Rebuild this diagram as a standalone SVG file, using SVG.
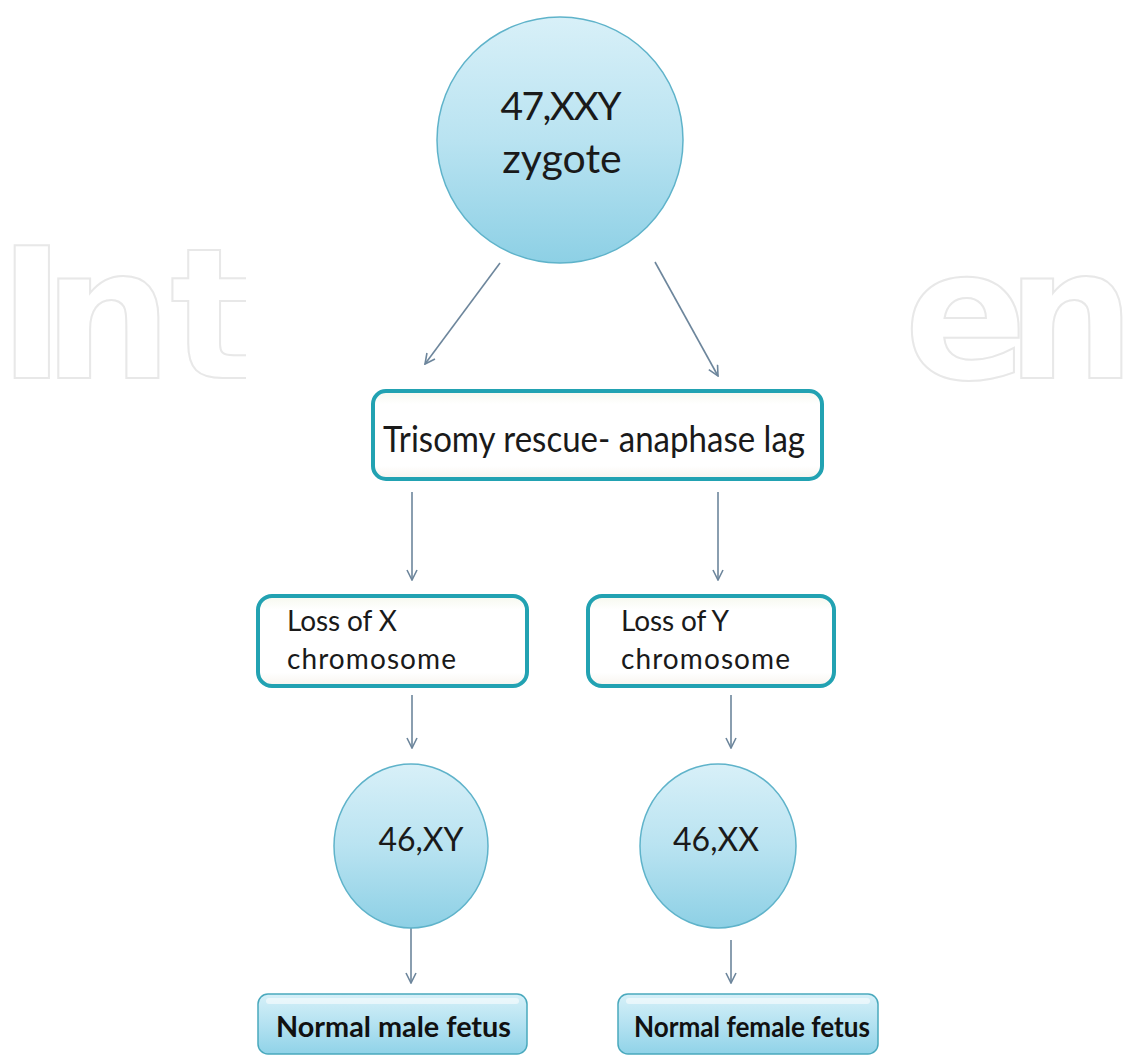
<svg xmlns="http://www.w3.org/2000/svg" width="1140" height="1057" viewBox="0 0 1140 1057">
  <defs>
    <style>
      .wm { font-family: "DejaVu Sans", "Open Sans", sans-serif; font-weight: bold; font-size: 182px; fill: #ffffff; stroke: #e8e8e8; stroke-width: 2; }
      .circ { fill: url(#gCirc); stroke: #5fb3ca; stroke-width: 1.5; }
      .box { fill: url(#gBox); stroke: #22a2b2; stroke-width: 4; }
      .fbox { fill: url(#gFetus); stroke: #4aa9bd; stroke-width: 1.5; }
      .t { font-family: "Lato", "Open Sans", sans-serif; fill: #1a1a1a; }
      .tb { font-family: "Lato", "Open Sans", sans-serif; font-weight: bold; fill: #111111; }
      .arr { stroke: #6d869c; stroke-width: 1.6; fill: none; marker-end: url(#ah); }
    </style>
    <linearGradient id="gCirc" x1="0" y1="0" x2="0" y2="1">
      <stop offset="0" stop-color="#d8f0f8"/>
      <stop offset="0.5" stop-color="#b9e3f1"/>
      <stop offset="1" stop-color="#8dd0e5"/>
    </linearGradient>
    <linearGradient id="gBox" x1="0" y1="0" x2="0" y2="1">
      <stop offset="0" stop-color="#f6f8ee"/>
      <stop offset="0.15" stop-color="#ffffff"/>
      <stop offset="0.85" stop-color="#ffffff"/>
      <stop offset="1" stop-color="#f7f4ee"/>
    </linearGradient>
    <linearGradient id="gFetus" x1="0" y1="0" x2="0" y2="1">
      <stop offset="0" stop-color="#d6f0f8"/>
      <stop offset="0.5" stop-color="#b4e2f1"/>
      <stop offset="1" stop-color="#90d3e8"/>
    </linearGradient>
    <marker id="ah" viewBox="0 0 12 12" refX="11" refY="6" markerWidth="12" markerHeight="12" markerUnits="userSpaceOnUse" orient="auto">
      <path d="M1,1 L11,6 L1,11" fill="none" stroke="#6d869c" stroke-width="1.6"/>
    </marker>
    <clipPath id="clipInt">
      <rect x="0" y="200" width="246" height="200"/>
    </clipPath>
  </defs>

  <rect x="0" y="0" width="1140" height="1057" fill="#ffffff"/>

  <g id="watermark">
    <text class="wm" x="-2 43 170" y="378" clip-path="url(#clipInt)">Int</text>
    <text class="wm" x="904 1006" y="378">en</text>
  </g>

  <g id="connectors">
    <line class="arr" x1="500" y1="263" x2="425" y2="364"/>
    <line class="arr" x1="655" y1="262" x2="718" y2="376"/>
    <line class="arr" x1="412" y1="492" x2="412" y2="580"/>
    <line class="arr" x1="718" y1="492" x2="718" y2="580"/>
    <line class="arr" x1="412" y1="695" x2="412" y2="748"/>
    <line class="arr" x1="731" y1="695" x2="731" y2="748"/>
    <line class="arr" x1="411" y1="928" x2="411" y2="983"/>
    <line class="arr" x1="731" y1="940" x2="731" y2="983"/>
  </g>

  <g id="zygote">
    <circle class="circ" cx="560" cy="140" r="123"/>
    <text class="t" x="561" y="120" font-size="39" text-anchor="middle" textLength="121">47,XXY</text>
    <text class="t" x="562" y="173" font-size="41" text-anchor="middle">zygote</text>
  </g>

  <g id="trisomy">
    <rect class="box" x="373" y="391" width="449" height="88" rx="13"/>
    <text class="t" x="383" y="452" font-size="37" textLength="422" lengthAdjust="spacingAndGlyphs">Trisomy rescue- anaphase lag</text>
  </g>

  <g id="lossX">
    <rect class="box" x="258" y="596" width="269" height="90" rx="14"/>
    <text class="t" x="287" y="631" font-size="28" textLength="110">Loss of X</text>
    <text class="t" x="287" y="669" font-size="28" textLength="169">chromosome</text>
  </g>

  <g id="lossY">
    <rect class="box" x="588" y="596" width="246" height="90" rx="14"/>
    <text class="t" x="621" y="631" font-size="28" textLength="108">Loss of Y</text>
    <text class="t" x="621" y="669" font-size="28" textLength="169">chromosome</text>
  </g>

  <g id="xy">
    <ellipse class="circ" cx="411" cy="846" rx="77" ry="82"/>
    <text class="t" x="421" y="851" font-size="32" text-anchor="middle">46,XY</text>
  </g>

  <g id="xx">
    <ellipse class="circ" cx="718" cy="846" rx="78" ry="82"/>
    <text class="t" x="716" y="851" font-size="32" text-anchor="middle">46,XX</text>
  </g>

  <g id="male">
    <rect class="fbox" x="258" y="994" width="269" height="60" rx="10"/>
    <rect x="266" y="998" width="253" height="6" rx="3" fill="#ffffff" opacity="0.55"/>
    <text class="tb" x="276" y="1037" font-size="29" textLength="235" lengthAdjust="spacingAndGlyphs">Normal male fetus</text>
  </g>

  <g id="female">
    <rect class="fbox" x="618" y="994" width="260" height="60" rx="10"/>
    <rect x="626" y="998" width="244" height="6" rx="3" fill="#ffffff" opacity="0.55"/>
    <text class="tb" x="634" y="1037" font-size="29" textLength="236" lengthAdjust="spacingAndGlyphs">Normal female fetus</text>
  </g>
</svg>
